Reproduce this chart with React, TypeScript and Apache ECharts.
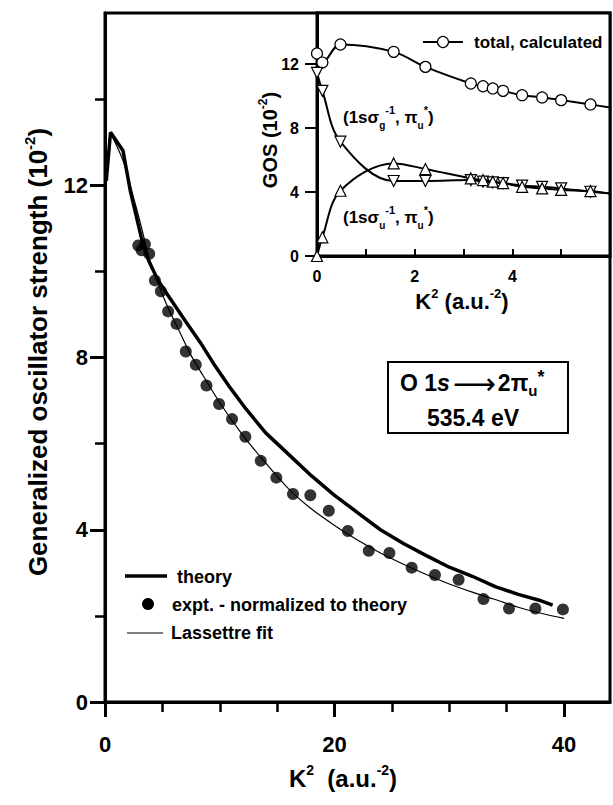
import React, { useEffect, useRef } from "react";
import * as echarts from "echarts";

const FONT = '"Liberation Sans", Arial, Helvetica, sans-serif';

// ---------- main plot data (K^2 in a.u.^-2, GOS in 10^-2) ----------
const theory: [number, number][] = [
  [0.11, 12.1], [0.48, 13.23], [1.57, 12.8], [2.22, 11.85], [3.15, 10.8],
  [3.8, 10.25], [4.6, 9.8], [5.6, 9.4], [7.0, 8.85], [8.3, 8.35], [9.6, 7.8],
  [10.9, 7.3], [12.3, 6.8], [14, 6.25], [16, 5.75], [18, 5.25], [20, 4.8],
  [22, 4.4], [24, 4.0], [26, 3.68], [28, 3.4], [30, 3.13], [32, 2.92],
  [34, 2.68], [36, 2.5], [38, 2.35], [39, 2.25],
];
const lassettreFit: [number, number][] = [
  [0.5, 13.2], [1.6, 12.55], [2.5, 11.7], [3.2, 11.0], [3.8, 10.35],
  [4.5, 9.8], [5.5, 9.15], [6.5, 8.6], [7.5, 8.05], [8.5, 7.6], [10, 6.95],
  [12, 6.2], [14, 5.55], [16, 4.95], [18, 4.48], [20, 4.1], [22, 3.76],
  [24, 3.46], [26, 3.2], [28, 2.96], [30, 2.74], [32, 2.55], [34, 2.38],
  [36, 2.2], [38, 2.06], [40, 1.94],
];
const experiment: [number, number][] = [
  [2.9, 10.6], [3.19, 10.49], [3.48, 10.63], [3.85, 10.41], [4.35, 9.79],
  [4.87, 9.54], [5.5, 9.07], [6.23, 8.78], [7.04, 8.14], [7.91, 7.83],
  [8.84, 7.35], [9.94, 6.92], [11.07, 6.57], [12.23, 6.16], [13.57, 5.6],
  [14.93, 5.21], [16.38, 4.83], [17.89, 4.8], [19.5, 4.44], [21.16, 3.97],
  [22.98, 3.51], [24.78, 3.46], [26.72, 3.12], [28.75, 2.95], [30.81, 2.84],
  [32.98, 2.39], [35.2, 2.17], [37.5, 2.17], [39.9, 2.15],
];

// ---------- inset data ----------
const totalCalculated: [number, number][] = [
  [0, 12.67], [0.11, 12.1], [0.48, 13.23], [1.57, 12.77], [2.22, 11.83],
  [3.15, 10.79], [3.4, 10.62], [3.6, 10.48], [3.81, 10.33], [4.2, 10.06],
  [4.61, 9.92], [5.0, 9.75], [5.6, 9.48], [6.0, 9.29],
];
const sigmaG: [number, number][] = [
  [0, 11.46], [0.11, 10.33], [0.48, 7.15], [1.57, 4.69], [2.22, 4.69],
  [3.15, 4.75], [3.4, 4.65], [3.6, 4.6], [3.81, 4.56], [4.2, 4.4],
  [4.61, 4.33], [5.0, 4.23], [5.6, 4.02], [6.0, 3.92],
];
const sigmaU: [number, number][] = [
  [0, 0], [0.11, 1.17], [0.48, 4.08], [1.57, 5.79], [2.22, 5.44],
  [3.15, 4.85], [3.4, 4.75], [3.6, 4.65], [3.81, 4.56], [4.2, 4.33],
  [4.61, 4.23], [5.0, 4.13], [5.6, 4.06], [6.0, 3.9],
];

// ---------- ticks ----------
const mainXLabels = [0, 20, 40];
const mainXMinor = [5, 10, 15, 25, 30, 35];
const mainYLabels = [0, 4, 8, 12];
const mainYMinor = [2, 6, 10, 14];
const insetXTicks = [0, 1, 2, 3, 4, 5];
const insetXLabels = [0, 2, 4];
const insetYLabels = [0, 4, 8, 12];

const BLACK = "#000";

function edgeEnd(arr: [number, number][]) {
  return arr.map((p, i) => (i === arr.length - 1 ? { value: p, symbol: "none" } : p));
}

export default function App() {
  const ref = useRef<HTMLDivElement>(null);
  useEffect(() => {
    document.body.style.margin = "0";
    const chart = echarts.init(ref.current!, undefined, { renderer: "svg" });
    const lbl = { fontFamily: FONT, fontWeight: "bold" as const, color: BLACK };
    const option: any = {
      animation: false,
      backgroundColor: "#fff",
      grid: [
        { left: 105, top: 13, width: 505, height: 689, show: true, borderColor: BLACK, borderWidth: 3, backgroundColor: "#fff" },
        { left: 317, top: 13, width: 293, height: 243, show: true, borderColor: BLACK, borderWidth: 3, backgroundColor: "#fff" },
      ],
      xAxis: [
        {
          gridIndex: 0, type: "value", min: 0, max: 44, position: "bottom",
          axisLine: { show: true, onZero: false, lineStyle: { color: BLACK, width: 3 } },
          axisTick: { show: true, customValues: mainXLabels, length: 15, lineStyle: { color: BLACK, width: 3 } },
          axisLabel: { customValues: mainXLabels, margin: 31, fontSize: 22, ...lbl },
          splitLine: { show: false },
        },
        {
          gridIndex: 0, type: "value", min: 0, max: 44, position: "bottom",
          axisLine: { show: false, onZero: false },
          axisTick: { show: true, customValues: mainXMinor, length: 10, lineStyle: { color: BLACK, width: 2.5 } },
          axisLabel: { show: false },
          splitLine: { show: false },
        },
        {
          gridIndex: 1, type: "value", min: 0, max: 6, position: "bottom",
          axisLine: { show: true, onZero: false, lineStyle: { color: BLACK, width: 3 } },
          axisTick: { show: true, inside: true, customValues: insetXTicks, length: 7, lineStyle: { color: BLACK, width: 2 } },
          axisLabel: { customValues: insetXLabels, margin: 12, fontSize: 16, ...lbl },
          splitLine: { show: false },
        },
      ],
      yAxis: [
        {
          gridIndex: 0, type: "value", min: 0, max: 16, position: "left",
          axisLine: { show: true, onZero: false, lineStyle: { color: BLACK, width: 3 } },
          axisTick: { show: true, customValues: mainYLabels, length: 15, lineStyle: { color: BLACK, width: 3 } },
          axisLabel: { customValues: mainYLabels, margin: 17, fontSize: 22, ...lbl },
          splitLine: { show: false },
        },
        {
          gridIndex: 0, type: "value", min: 0, max: 16, position: "left",
          axisLine: { show: false, onZero: false },
          axisTick: { show: true, customValues: mainYMinor, length: 10, lineStyle: { color: BLACK, width: 2.5 } },
          axisLabel: { show: false },
          splitLine: { show: false },
        },
        {
          gridIndex: 1, type: "value", min: 0, max: 15.2, position: "left",
          axisLine: { show: true, onZero: false, lineStyle: { color: BLACK, width: 3 } },
          axisTick: { show: true, customValues: insetYLabels, length: 12, lineStyle: { color: BLACK, width: 2 } },
          axisLabel: { customValues: insetYLabels, margin: 18, fontSize: 16, ...lbl },
          splitLine: { show: false },
        },
      ],
      series: [
        {
          name: "theory", type: "line", xAxisIndex: 0, yAxisIndex: 0, data: theory,
          showSymbol: false, symbol: "none", lineStyle: { color: BLACK, width: 3.5 }, z: 3,
        },
        {
          name: "Lassettre fit", type: "line", xAxisIndex: 0, yAxisIndex: 0, data: lassettreFit,
          showSymbol: false, symbol: "none", smooth: 0.3, lineStyle: { color: BLACK, width: 1.2 }, z: 2,
        },
        {
          name: "expt. - normalized to theory", type: "scatter", xAxisIndex: 0, yAxisIndex: 0, data: experiment,
          symbol: "circle", symbolSize: 12, itemStyle: { color: BLACK }, z: 4,
        },
        {
          name: "total, calculated", type: "line", xAxisIndex: 2, yAxisIndex: 2, data: edgeEnd(totalCalculated),
          smooth: 0.35, symbol: "circle", symbolSize: 11, showAllSymbol: true,
          itemStyle: { color: "#fff", borderColor: BLACK, borderWidth: 1.2 },
          lineStyle: { color: BLACK, width: 2 }, z: 5,
        },
        {
          name: "(1sσg-1, πu*)", type: "line", xAxisIndex: 2, yAxisIndex: 2, data: edgeEnd(sigmaG),
          smooth: 0.35, symbol: "triangle", symbolRotate: 180, symbolSize: 11, showAllSymbol: true,
          itemStyle: { color: "#fff", borderColor: BLACK, borderWidth: 1.2 },
          lineStyle: { color: BLACK, width: 2 }, z: 5,
        },
        {
          name: "(1sσu-1, πu*)", type: "line", xAxisIndex: 2, yAxisIndex: 2, data: edgeEnd(sigmaU),
          smooth: 0.35, symbol: "triangle", symbolSize: 11, showAllSymbol: true,
          itemStyle: { color: "#fff", borderColor: BLACK, borderWidth: 1.2 },
          lineStyle: { color: BLACK, width: 2 }, z: 5,
        },
      ],
      graphic: [
        // main y title
        {
          type: "text", x: 38, y: 352, rotation: Math.PI / 2, z: 10,
          style: {
            text: "{t|Generalized oscillator strength (10}{s|-2}{t|)}",
            align: "center", verticalAlign: "middle", fill: BLACK,
            rich: {
              t: { fontSize: 26, fontWeight: "bold", fontFamily: FONT, lineHeight: 32, verticalAlign: "middle" },
              s: { fontSize: 15, fontWeight: "bold", fontFamily: FONT, lineHeight: 15, verticalAlign: "top" },
            },
          },
        },
        // main x title
        {
          type: "text", x: 343, y: 778, z: 10,
          style: {
            text: "{t|K}{s|2}{t|  (a.u.}{s|-2}{t|)}",
            align: "center", verticalAlign: "middle", fill: BLACK,
            rich: {
              t: { fontSize: 24, fontWeight: "bold", fontFamily: FONT, lineHeight: 30, verticalAlign: "middle" },
              s: { fontSize: 14, fontWeight: "bold", fontFamily: FONT, lineHeight: 14, verticalAlign: "top" },
            },
          },
        },
        // inset y title
        {
          type: "text", x: 270, y: 140, rotation: Math.PI / 2, z: 10,
          style: {
            text: "{t|GOS (10}{s|-2}{t|)}",
            align: "center", verticalAlign: "middle", fill: BLACK,
            rich: {
              t: { fontSize: 20, fontWeight: "bold", fontFamily: FONT, lineHeight: 26, verticalAlign: "middle" },
              s: { fontSize: 12, fontWeight: "bold", fontFamily: FONT, lineHeight: 12, verticalAlign: "top" },
            },
          },
        },
        // inset x title
        {
          type: "text", x: 462, y: 301, z: 10,
          style: {
            text: "{t|K}{s|2}{t| (a.u.}{s|-2}{t|)}",
            align: "center", verticalAlign: "middle", fill: BLACK,
            rich: {
              t: { fontSize: 22, fontWeight: "bold", fontFamily: FONT, lineHeight: 28, verticalAlign: "middle" },
              s: { fontSize: 13, fontWeight: "bold", fontFamily: FONT, lineHeight: 13, verticalAlign: "top" },
            },
          },
        },
        // inset legend
        { type: "line", z: 10, shape: { x1: 423, y1: 42, x2: 463, y2: 42 }, style: { stroke: BLACK, lineWidth: 2 } },
        { type: "circle", z: 11, shape: { cx: 443, cy: 42, r: 5.5 }, style: { fill: "#fff", stroke: BLACK, lineWidth: 1.2 } },
        {
          type: "text", x: 474, y: 42, z: 10,
          style: { text: "total, calculated", fontSize: 17, fontWeight: "bold", fontFamily: FONT, fill: BLACK, align: "left", verticalAlign: "middle" },
        },
        // inset annotations
        {
          type: "text", x: 343, y: 117, z: 10,
          style: {
            text: "{t|(1s}{t|σ}{b|g}{p|-1}{t|, π}{b|u}{p|*}{t|)}",
            align: "left", verticalAlign: "middle", fill: BLACK,
            rich: {
              t: { fontSize: 17, fontWeight: "bold", fontFamily: FONT, lineHeight: 26, verticalAlign: "middle" },
              b: { fontSize: 10, fontWeight: "bold", fontFamily: FONT, lineHeight: 12, verticalAlign: "bottom" },
              p: { fontSize: 11, fontWeight: "bold", fontFamily: FONT, lineHeight: 12, verticalAlign: "top" },
            },
          },
        },
        {
          type: "text", x: 343, y: 217, z: 10,
          style: {
            text: "{t|(1s}{t|σ}{b|u}{p|-1}{t|, π}{b|u}{p|*}{t|)}",
            align: "left", verticalAlign: "middle", fill: BLACK,
            rich: {
              t: { fontSize: 17, fontWeight: "bold", fontFamily: FONT, lineHeight: 26, verticalAlign: "middle" },
              b: { fontSize: 10, fontWeight: "bold", fontFamily: FONT, lineHeight: 12, verticalAlign: "bottom" },
              p: { fontSize: 11, fontWeight: "bold", fontFamily: FONT, lineHeight: 12, verticalAlign: "top" },
            },
          },
        },
        // transition box
        { type: "rect", z: 10, shape: { x: 388, y: 362, width: 180, height: 71 }, style: { fill: "#fff", stroke: BLACK, lineWidth: 2 } },
        {
          type: "text", x: 400, y: 383, z: 11,
          style: {
            text: "{t|O 1}{i|s}{a|⟶}{t|2π}{b|u}{p|*}",
            align: "left", verticalAlign: "middle", fill: BLACK,
            rich: {
              t: { fontSize: 23, fontWeight: "bold", fontFamily: FONT, lineHeight: 30, verticalAlign: "middle" },
              i: { fontSize: 23, fontWeight: "bold", fontStyle: "italic", fontFamily: FONT, lineHeight: 30, verticalAlign: "middle", padding: [0, 3, 0, 0] },
              a: { fontSize: 30, fontFamily: '"DejaVu Sans", sans-serif', lineHeight: 30, verticalAlign: "middle", padding: [0, 2, 0, 0] },
              b: { fontSize: 15, fontWeight: "bold", fontFamily: FONT, lineHeight: 14, verticalAlign: "bottom" },
              p: { fontSize: 18, fontWeight: "bold", fontFamily: FONT, lineHeight: 16, verticalAlign: "top" },
            },
          },
        },
        {
          type: "text", x: 473, y: 418, z: 11,
          style: { text: "535.4 eV", fontSize: 23, fontWeight: "bold", fontFamily: FONT, fill: BLACK, align: "center", verticalAlign: "middle" },
        },
        // main legend
        { type: "line", z: 10, shape: { x1: 125, y1: 576, x2: 167, y2: 576 }, style: { stroke: BLACK, lineWidth: 3.5 } },
        {
          type: "text", x: 177, y: 577, z: 10,
          style: { text: "theory", fontSize: 18, fontWeight: "bold", fontFamily: FONT, fill: BLACK, align: "left", verticalAlign: "middle" },
        },
        { type: "circle", z: 10, shape: { cx: 148, cy: 604, r: 6 }, style: { fill: BLACK } },
        {
          type: "text", x: 172, y: 605, z: 10,
          style: { text: "expt. - normalized to theory", fontSize: 18, fontWeight: "bold", fontFamily: FONT, fill: BLACK, align: "left", verticalAlign: "middle" },
        },
        { type: "line", z: 10, shape: { x1: 127, y1: 633, x2: 163, y2: 633 }, style: { stroke: BLACK, lineWidth: 1.2 } },
        {
          type: "text", x: 171, y: 633, z: 10,
          style: { text: "Lassettre fit", fontSize: 18, fontWeight: "bold", fontFamily: FONT, fill: BLACK, align: "left", verticalAlign: "middle" },
        },
      ],
    };
    chart.setOption(option);
    return () => chart.dispose();
  }, []);
  return <div ref={ref} style={{ width: 613, height: 805 }} />;
}
